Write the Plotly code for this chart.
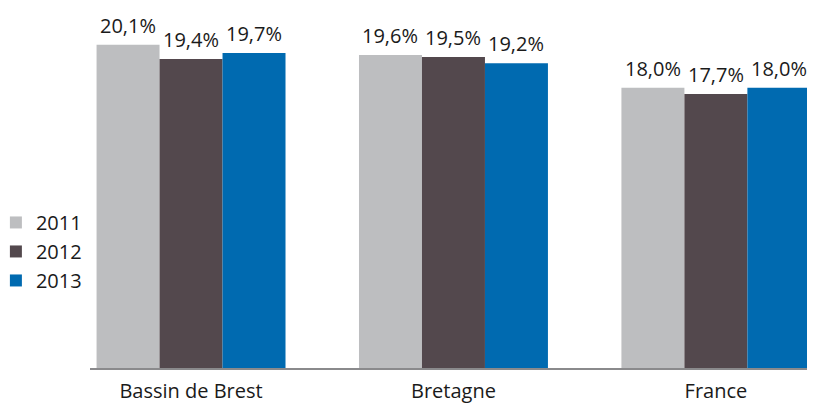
import plotly.graph_objects as go

categories = ["Bassin de Brest", "Bretagne", "France"]
years = ["2011", "2012", "2013"]
values_2011 = [20.1, 19.6, 18.0]
values_2012 = [19.4, 19.5, 17.7]
values_2013 = [19.7, 19.2, 18.0]
colors = ["#BDBEC0", "#53484D", "#006AB0"]

series = [values_2011, values_2012, values_2013]

# page body has an 8px margin, so the figure is drawn 8px in from the corner
W, H = 807, 398
x0, x1 = 82, 805
FONT = "Open Sans"
TXT = "#1a1a1a"
bargap = 0.28
bw = (1 - bargap) / len(series)

fig = go.Figure()
for k, (name, vals, col) in enumerate(zip(years, series, colors)):
    fig.add_trace(go.Bar(
        name=name, x=list(range(len(categories))), y=vals,
        marker=dict(color=col, line=dict(width=0)),
        legendgroup=name,
    ))
    for i, v in enumerate(vals):
        fig.add_annotation(
            x=i + (k - 1) * bw, y=v, xref="x", yref="y",
            text=f"{v:.1f}%".replace(".", ","), showarrow=False,
            yanchor="bottom", yshift=4,
            font=dict(family=FONT, size=20, color=TXT),
        )

fig.update_layout(
    width=W, height=H,
    margin=dict(l=0, r=0, t=2, b=38, autoexpand=False),
    paper_bgcolor="white", plot_bgcolor="white",
    barmode="group", bargap=bargap, bargroupgap=0,
    font=dict(family=FONT, size=20, color=TXT),
    legend=dict(x=-0.015, y=0.461, xanchor="left", yanchor="top",
                font=dict(family=FONT, size=20, color=TXT),
                itemwidth=30, tracegroupgap=0, bgcolor="rgba(0,0,0,0)"),
    xaxis=dict(domain=[x0 / W, x1 / W], range=[-0.385, 2.37],
               tickmode="array", tickvals=list(range(len(categories))),
               ticktext=categories, showline=True, linecolor="#8a8a8c",
               linewidth=2, ticks="", showgrid=False, zeroline=False,
               automargin=False, ticklabelstandoff=4,
               tickfont=dict(family=FONT, size=20, color=TXT)),
    yaxis=dict(range=[4.36, 21.79], visible=False, showgrid=False,
               automargin=False),
    showlegend=True,
)

fig.write_html("out.html")
